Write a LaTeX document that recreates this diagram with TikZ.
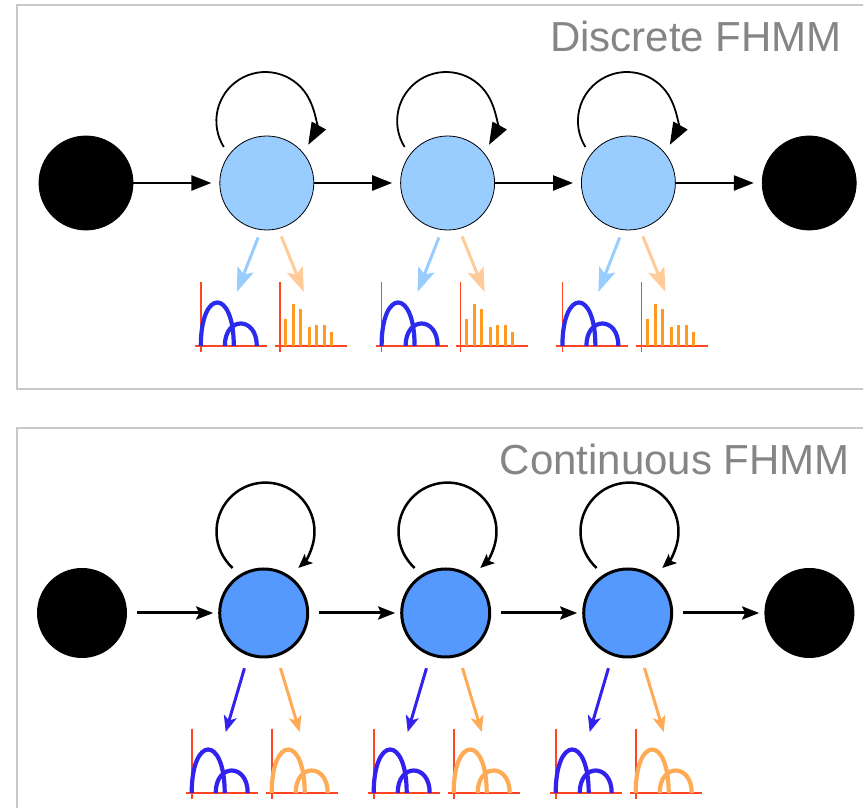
\documentclass[tikz,border=0pt]{standalone}
\usepackage{fontspec}
\setmainfont{Liberation Sans}
\usepackage{tikz}
\usetikzlibrary{positioning,arrows.meta,calc}
\definecolor{dlight}{HTML}{99CCFF}
\definecolor{cblue}{HTML}{5599FF}
\definecolor{emlb}{HTML}{99CCFF}
\definecolor{emlo}{HTML}{FFCC99}
\definecolor{emb}{HTML}{3322EE}
\definecolor{emo}{HTML}{FFAA55}
\definecolor{humpb}{HTML}{2B2BEE}
\definecolor{barorange}{HTML}{FF9922}
\definecolor{axred}{HTML}{FF4422}
\definecolor{boxgray}{HTML}{C8C8C8}
\definecolor{titlegray}{HTML}{858585}
\tikzset{
  endpt/.style={circle,draw,fill=black,minimum size=94pt,inner sep=0pt,line width=0.8pt},
  dstate/.style={circle,draw,fill=dlight,minimum size=94pt,inner sep=0pt,line width=0.8pt},
  endptc/.style={circle,fill=black,minimum size=90pt,inner sep=0pt},
  cstate/.style={circle,draw,fill=cblue,minimum size=88pt,inner sep=0pt,line width=3pt},
  dtrans/.style={-{Triangle[length=20pt,width=15pt]},line width=2.5pt,shorten >=8pt},
  ctrans/.style={-{Stealth[length=17pt,width=13pt,inset=3pt]},line width=3pt,
            shorten <=10pt,shorten >=5pt},
  dloop/.style={-{Triangle[length=22pt,width=16pt]},line width=1.8pt},
  cloop/.style={-{Stealth[length=14pt,width=12pt,inset=3pt]},line width=2.5pt},
  demit/.style={-{Stealth[length=24pt,width=17pt,inset=5pt]},line width=3pt,shorten <=8pt},
  cemit/.style={-{Stealth[length=16pt,width=13pt,inset=4pt]},line width=3pt},
  plotaxis/.style={line width=1.7pt,draw=axred},
  panel/.style={draw=boxgray,line width=2pt},
  paneltitle/.style={anchor=base east,inner sep=0pt,titlegray,
            font=\fontsize{42pt}{42pt}\selectfont},
  humps/.pic={
    \draw[plotaxis] (0,-6) -- (0,64);
    \draw[plotaxis] (-6,0) -- (66,0);
    \draw[line width=4.2pt,#1] (0,0) .. controls (0,58) and (33,58) .. (33,0);
    \draw[line width=4.2pt,#1] (24,0) .. controls (24,30) and (56,30) .. (56,0);
  },
  bars/.pic={
    \draw[plotaxis] (0,-6) -- (0,64);
    \draw[plotaxis] (-5,0) -- (67,0);
    \foreach \bx/\bh in {6/27,14/42,21/37,30/19,37/21,45/21,52/14}
      \draw[line width=3pt,barorange] (\bx,0) -- (\bx,\bh);
  },
}

\begin{document}
\begin{tikzpicture}[x=1pt,y=1pt]
  \clip (0,0) rectangle (863,808);

  % discrete panel
  \draw[panel] (17,803) rectangle (900,419);
  \node[paneltitle] (dtitle) at (842,756) {Discrete FHMM};
  \begin{scope}[node distance=86pt]
    \node[endpt] (a0) at (86,625) {};
    \node[dstate,right=of a0] (s1) {};
    \node[dstate,right=of s1] (s2) {};
    \node[dstate,right=of s2] (s3) {};
    \node[endpt,right=of s3] (a4) {};
  \end{scope}
  \draw[dtrans] (a0) -- (s1);
  \draw[dtrans] (s1) -- (s2);
  \draw[dtrans] (s2) -- (s3);
  \draw[dtrans] (s3) -- (a4);
  \foreach \s in {s1,s2,s3} {
    \draw[dloop] ($(\s)+(-43,36)$) arc[start angle=212,end angle=-29,radius=49pt];
    \coordinate (\s tb) at ($(\s)+(-30,-109)$);
    \coordinate (\s to) at ($(\s)+(37,-109)$);
    \draw[demit,emlb] (\s.263) -- (\s tb);
    \draw[demit,emlo] (\s.284) -- (\s to);
    \pic at ($(\s)+(-66,-163)$) {humps=humpb};
    \pic at ($(\s)+(13,-163)$) {bars};
  }

  % continuous panel
  \draw[panel] (17,380) rectangle (900,-50);
  \node[paneltitle] (ctitle) at (850,333) {Continuous FHMM};
  \begin{scope}[node distance=91pt]
    \node[endptc] (b0) at (82,195) {};
    \node[cstate,right=of b0] (c1) {};
    \node[cstate,right=of c1] (c2) {};
    \node[cstate,right=of c2] (c3) {};
    \node[endptc,right=of c3] (b4) {};
  \end{scope}
  \draw[ctrans] (b0) -- (c1);
  \draw[ctrans] (c1) -- (c2);
  \draw[ctrans] (c2) -- (c3);
  \draw[ctrans] (c3) -- (b4);
  \foreach \s in {c1,c2,c3} {
    \draw[cloop] ($(\s)+(-31,45)$) arc[start angle=228,end angle=-48,radius=49pt];
    \coordinate (\s tb) at ($(\s)+(-38,-119)$);
    \coordinate (\s to) at ($(\s)+(36,-119)$);
    \draw[cemit,emb,shorten <=13pt] (\s.250) -- (\s tb);
    \draw[cemit,emo,shorten <=12pt] (\s.287) -- (\s to);
    \pic at ($(\s)+(-72,-180)$) {humps=emb};
    \pic at ($(\s)+(8,-180)$) {humps=emo};
  }
\end{tikzpicture}
\end{document}
